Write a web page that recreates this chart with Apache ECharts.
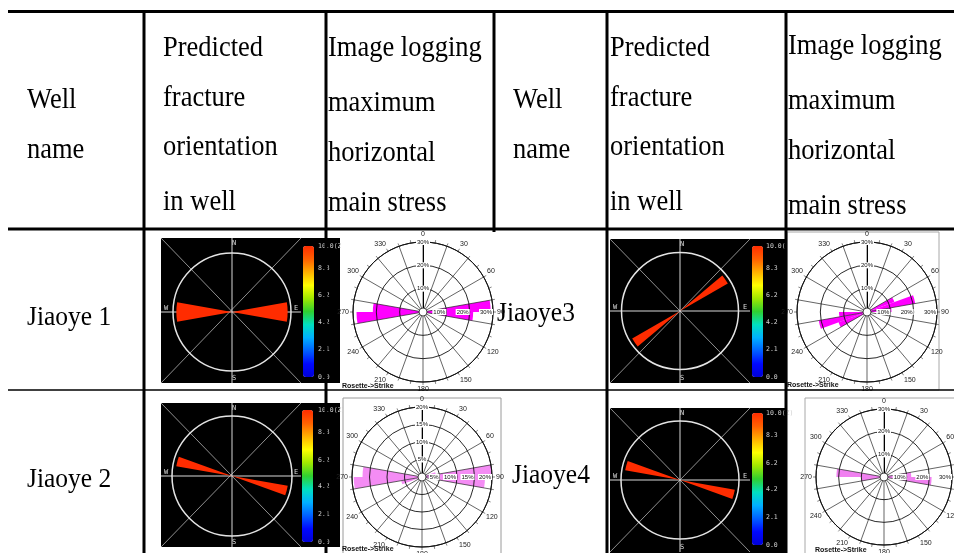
<!DOCTYPE html>
<html>
<head>
<meta charset="utf-8">
<script src="https://cdn.jsdelivr.net/npm/echarts@6/dist/echarts.min.js"></script>
<style>
  html, body { margin: 0; padding: 0; background: #fff; }
  #chart { width: 954px; height: 553px; }
</style>
</head>
<body>
<div id="chart"></div>
<script>
// 10-degree strike bins (start angle of each bin)
const strikeBins = ['0','10','20','30','40','50','60','70','80','90','100','110',
  '120','130','140','150','160','170','180','190','200','210','220','230',
  '240','250','260','270','280','290','300','310','320','330','340','350'];

const wellNames = ['Jiaoye 1', 'Jiaoye 2', 'Jiaoye3', 'Jiaoye4'];

const headerWell = ['Well', 'name'];
const headerPredicted = ['Predicted', 'fracture', 'orientation', 'in well'];
const headerImaging = ['Image logging', 'maximum', 'horizontal', 'main stress'];

// predicted fracture intensity per strike bin (0-10 colour scale)
const predJiaoye1 = [0,0,0,0,0,0,0,0,10,10,0,0, 0,0,0,0,0,0,0,0,0,0,0,0, 0,0,10,10,0,0,0,0,0,0,0,0];
const predJiaoye2 = [0,0,0,0,0,0,0,0,0,0,10,0, 0,0,0,0,0,0,0,0,0,0,0,0, 0,0,0,0,10,0,0,0,0,0,0,0];
const predJiaoye3 = [0,0,0,0,0,10,0,0,0,0,0,0, 0,0,0,0,0,0,0,0,0,0,0,10, 0,0,0,0,0,0,0,0,0,0,0,0];
const predJiaoye4 = [0,0,0,0,0,0,0,0,0,0,10,0, 0,0,0,0,0,0,0,0,0,0,0,0, 0,0,0,0,10,0,0,0,0,0,0,0];

// image-logging strike frequency per bin, percent
const stressJiaoye1 = [0,0,0,0,0,0,0,0,29,21.5,0,0, 0,0,0,0,0,0,0,0,0,0,0,0, 0,0,28.5,21.5,0,0,0,0,0,0,0,0];
const stressJiaoye2 = [0,0,0,0,0,0,0,4,20,18,0,0, 0,0,0,0,0,0,0,0,0,0,0,0, 0,6,19.5,17,0,0,0,0,0,0,0,0];
const stressJiaoye3 = [0,0,0,0,0,0,12.5,21,10.5,0,0,0, 0,0,0,0,0,0,0,0,0,0,0,0, 13,21,12,0,0,0,0,0,0,0,0,0];
const stressJiaoye4 = [0,0,0,0,0,0,0,0,12,21,0,0, 0,0,0,0,0,0,0,0,0,0,0,0, 0,0,10,21,0,0,0,0,0,0,0,0];

const angleLabels = [0,30,60,90,120,150,180,210,240,270,300,330];
const colorbarValues = [10, 8.3, 6.2, 4.2, 2.1, 0];
const colorbarLabels = ['10.0(Z)', '8.3', '6.2', '4.2', '2.1', '0.0'];
const compassLabels = ['N', 'E', 'S', 'W'];
const roseCaption = 'Rosette->Strike';

const jet = ['#0000d8','#0008ff','#0060ff','#00b0ff','#00e0c0','#30d030','#a0e800','#ffff00','#ffb000','#ff6000','#ff2c00'];

// layout of the four fracture-prediction panels
const darkPanels = [
  { data: predJiaoye1, cx: 232, cy: 312, r: 59, bg: [161, 238, 340, 383], box: [161, 238, 301, 383], bar: [303, 246, 11, 131], lx: 318 },
  { data: predJiaoye3, cx: 680, cy: 311, r: 58.5, bg: [610, 239, 786, 383], box: [610, 239, 750, 383], bar: [752, 246, 11, 131], lx: 766 },
  { data: predJiaoye2, cx: 232, cy: 476, r: 60, bg: [161, 403, 340, 547], box: [161, 403, 301, 547], bar: [302, 410, 11, 132], lx: 318 },
  { data: predJiaoye4, cx: 680, cy: 480, r: 59, bg: [610, 408, 786, 553], box: [610, 408, 750, 552], bar: [752, 413, 11, 132], lx: 766 }
];

// layout of the four rose diagrams
const rosePanels = [
  { data: stressJiaoye1, max: 30, step: 10, cx: 423, cy: 312, r: 70, frame: [341, 232, 156, 158], stroke: null, color: '#ff00ff', cap: [342, 386] },
  { data: stressJiaoye2, max: 20, step: 5, cx: 422, cy: 477, r: 70, frame: [343, 398, 158, 160], stroke: '#9a9a9a', color: '#f48cf4', cap: [342, 549] },
  { data: stressJiaoye3, max: 30, step: 10, cx: 867, cy: 312, r: 70, frame: [787, 232, 152, 158], stroke: '#a8a8a8', color: '#ff00ff', cap: [787, 385] },
  { data: stressJiaoye4, max: 30, step: 10, cx: 884, cy: 477, r: 68, frame: [805, 398, 160, 160], stroke: '#a8a8a8', color: '#f080f0', cap: [815, 550] }
];

const polar = [], angleAxis = [], radiusAxis = [], series = [], visualMap = [], graphic = [];

// fracture-prediction panels
darkPanels.forEach((p) => {
  const idx = polar.length;
  polar.push({ center: [p.cx, p.cy], radius: p.r });
  angleAxis.push({
    polarIndex: idx, type: 'category', data: strikeBins, startAngle: 90, clockwise: true, boundaryGap: true,
    axisLine: { show: true, lineStyle: { color: '#e4e4e4', width: 1.5 } },
    axisTick: { show: false }, axisLabel: { show: false }, splitLine: { show: false }, z: 1
  });
  radiusAxis.push({ polarIndex: idx, type: 'value', min: 0, max: 10.6, show: false });
  series.push({
    type: 'bar', coordinateSystem: 'polar', polarIndex: idx, data: p.data,
    barCategoryGap: '0%', silent: true, z: 2
  });
  visualMap.push({
    type: 'continuous', min: 0, max: 10, seriesIndex: series.length - 1, dimension: 0,
    left: p.bar[0], top: p.bar[1], itemWidth: p.bar[2], itemHeight: p.bar[3],
    calculable: false, hoverLink: false, padding: 0, inRange: { color: jet }
  });

  const [bx0, by0, bx1, by1] = p.bg;
  graphic.push({ type: 'rect', z: -10, shape: { x: bx0, y: by0, width: bx1 - bx0, height: by1 - by0 }, style: { fill: '#000' } });
  const [x0, y0, x1, y1] = p.box;
  const dl = { stroke: '#b4b4b4', lineWidth: 0.8 };
  graphic.push({ type: 'line', z: -9, shape: { x1: x0, y1: y0, x2: x1, y2: y1 }, style: dl });
  graphic.push({ type: 'line', z: -9, shape: { x1: x1, y1: y0, x2: x0, y2: y1 }, style: dl });
  graphic.push({ type: 'line', z: -9, shape: { x1: x0, y1: p.cy, x2: x1, y2: p.cy }, style: { stroke: '#d8d8d8', lineWidth: 1 } });
  graphic.push({ type: 'line', z: -9, shape: { x1: p.cx, y1: y0, x2: p.cx, y2: y1 }, style: { stroke: '#d8d8d8', lineWidth: 1 } });
  const cf = { fill: '#dcdcdc', fontSize: 7, fontFamily: 'DejaVu Sans Mono', align: 'center', verticalAlign: 'middle' };
  const cpos = [[p.cx + 2, y0 + 5], [x1 - 5, p.cy - 4], [p.cx + 2, y1 - 5], [x0 + 5, p.cy - 4]];
  compassLabels.forEach((t, i) => graphic.push({ type: 'text', z: -8, x: cpos[i][0], y: cpos[i][1], style: Object.assign({ text: t }, cf) }));
  colorbarValues.forEach((v, i) => {
    const y = p.bar[1] + (1 - v / 10) * p.bar[3];
    graphic.push({ type: 'text', z: -8, x: p.lx, y: y, style: { text: colorbarLabels[i], fill: '#d0d0d0', fontSize: 6.5, fontFamily: 'DejaVu Sans Mono', align: 'left', verticalAlign: 'middle' } });
  });
});

// rose diagrams of image-logging strikes
rosePanels.forEach((p) => {
  const [fx, fy, fw, fh] = p.frame;
  graphic.push({ type: 'rect', z: -7, shape: { x: fx, y: fy, width: fw, height: fh }, style: { fill: '#fff', stroke: p.stroke || null, lineWidth: 1 } });
  graphic.push({ type: 'text', z: 20, x: p.cap[0], y: p.cap[1], style: { text: roseCaption, fill: '#111', fontSize: 7, fontWeight: 'bold', fontFamily: 'Liberation Sans', align: 'left', verticalAlign: 'middle' } });
  graphic.push({ type: 'circle', z: 20, shape: { cx: p.cx, cy: p.cy, r: 4 }, style: { fill: '#fff', stroke: '#222', lineWidth: 0.8 } });

  const main = polar.length;
  polar.push({ center: [p.cx, p.cy], radius: [0, p.r] });
  angleAxis.push({
    polarIndex: main, type: 'category', data: strikeBins, startAngle: 90, clockwise: true, boundaryGap: true,
    axisLine: { show: true, lineStyle: { color: '#111', width: 1 } },
    axisTick: { show: false }, axisLabel: { show: false },
    splitLine: { show: true, lineStyle: { color: '#222', width: 0.7 } }, z: 5
  });
  radiusAxis.push({
    polarIndex: main, type: 'value', min: 0, max: p.max, interval: p.step,
    axisLine: { show: true, lineStyle: { color: '#000', width: 1 } }, axisTick: { show: false },
    splitLine: { show: true, lineStyle: { color: '#111', width: 0.9 } },
    axisLabel: { show: true, showMinLabel: false, formatter: '{value}%', fontSize: 6, color: '#111', margin: 0,
      align: 'center', verticalAlign: 'middle', backgroundColor: '#fff', padding: [0, 1] },
    z: 6
  });
  series.push({
    type: 'bar', coordinateSystem: 'polar', polarIndex: main, data: p.data,
    barCategoryGap: '0%', itemStyle: { color: p.color }, silent: true, z: 2
  });

  const ov = polar.length;
  polar.push({ center: [p.cx, p.cy], radius: [0, p.r] });
  angleAxis.push({
    polarIndex: ov, type: 'value', min: 0, max: 360, interval: 10, startAngle: 90, clockwise: true,
    axisLine: { show: false }, splitLine: { show: false },
    axisTick: { show: true, length: 3, lineStyle: { color: '#333', width: 0.6 } },
    axisLabel: { show: true, margin: 4, fontSize: 7, color: '#222', fontFamily: 'Liberation Sans',
      formatter: (v) => angleLabels.includes(v) ? String(v) : '' },
    z: 5
  });
  radiusAxis.push({ polarIndex: ov, type: 'value', min: 0, max: p.max, show: false });

  const ov2 = polar.length;
  polar.push({ center: [p.cx, p.cy], radius: [0, p.r] });
  angleAxis.push({ polarIndex: ov2, type: 'value', min: 0, max: 360, startAngle: 0, show: false });
  radiusAxis.push({
    polarIndex: ov2, type: 'value', min: 0, max: p.max, interval: p.step,
    axisLine: { show: false }, axisTick: { show: false }, splitLine: { show: false },
    axisLabel: { show: true, showMinLabel: false, formatter: '{value}%', fontSize: 6, color: '#111', margin: 0,
      align: 'right', verticalAlign: 'middle', backgroundColor: '#fff', padding: [0, 1] },
    z: 6
  });
});

// table rules
const hLines = [[8, 954, 11.5, 3], [8, 954, 229, 3], [8, 954, 390, 1.6]];
hLines.forEach(([a, b, y, w]) => graphic.push({ type: 'line', z: 50, shape: { x1: a, y1: y, x2: b, y2: y }, style: { stroke: '#000', lineWidth: w } }));
const vLines = [[144, 10, 553], [326, 10, 553], [494, 10, 232], [607, 10, 553], [786, 10, 553]];
vLines.forEach(([x, a, b]) => graphic.push({ type: 'line', z: 50, shape: { x1: x, y1: a, x2: x, y2: b }, style: { stroke: '#000', lineWidth: 3 } }));

// table text
const serif = '"Liberation Serif", "Times New Roman", serif';
function addText(t, x, y, size) {
  graphic.push({ type: 'text', z: 50, x: x, y: y, scaleY: 1.1,
    style: { text: t, fill: '#000', fontSize: size, fontFamily: serif, align: 'left', verticalAlign: 'middle' } });
}
const headerCols = [
  { lines: headerWell, x: 27, ys: [100, 150] },
  { lines: headerPredicted, x: 163, ys: [48, 98, 147, 202] },
  { lines: headerImaging, x: 328, ys: [48, 103, 153, 203] },
  { lines: headerWell, x: 513, ys: [100, 150] },
  { lines: headerPredicted, x: 610, ys: [48, 98, 147, 202] },
  { lines: headerImaging, x: 788, ys: [46, 101, 151, 206] }
];
headerCols.forEach(c => c.lines.forEach((t, i) => addText(t, c.x, c.ys[i], 26.5)));
const wellPos = [[27, 318], [27, 480], [497, 314], [512, 476]];
wellNames.forEach((t, i) => addText(t, wellPos[i][0], wellPos[i][1], 25.5));

const chart = echarts.init(document.getElementById('chart'), null, { renderer: 'canvas', width: 954, height: 553 });
chart.setOption({
  backgroundColor: '#fff',
  animation: false,
  polar: polar,
  angleAxis: angleAxis,
  radiusAxis: radiusAxis,
  visualMap: visualMap,
  series: series,
  graphic: { elements: graphic }
});
</script>
</body>
</html>
